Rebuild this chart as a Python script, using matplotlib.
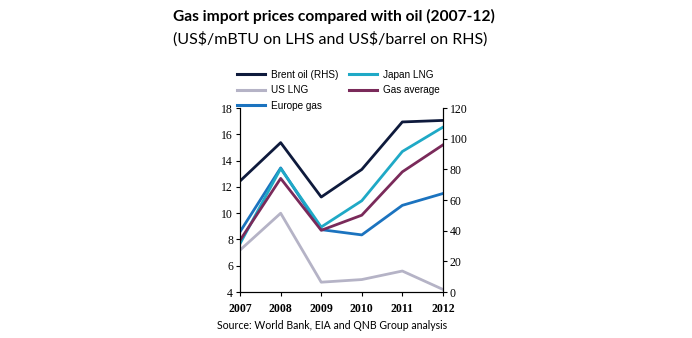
import matplotlib.pyplot as plt
from matplotlib.lines import Line2D

# values
years = ['2007', '2008', '2009', '2010', '2011', '2012']
brent_oil = [72.5, 97.5, 62, 80, 111, 112]      # US$/barrel, RHS
japan_lng = [7.7, 13.4, 8.95, 10.95, 14.7, 16.55]
us_lng = [7.2, 10.0, 4.75, 4.95, 5.6, 4.2]
gas_average = [7.95, 12.65, 8.7, 9.85, 13.15, 15.2]
europe_gas = [8.6, 13.45, 8.75, 8.35, 10.6, 11.5]

c_brent = '#0e1a3c'
c_japan = '#1fa9c6'
c_us = '#b5b3c6'
c_avg = '#7a2a5a'
c_europe = '#1b73bf'

fig = plt.figure(figsize=(6.92, 3.38), dpi=100)
ax = fig.add_axes([0.347, 0.136, 0.293, 0.544])
ax2 = ax.twinx()

x = range(len(years))
lw = 2.0
ax.plot(x, us_lng, color=c_us, lw=lw)
ax.plot(x, europe_gas, color=c_europe, lw=lw)
ax.plot(x, japan_lng, color=c_japan, lw=lw)
ax.plot(x, gas_average, color=c_avg, lw=lw)
ax2.plot(x, brent_oil, color=c_brent, lw=lw)

ax.set_xlim(0, 5)
ax.set_ylim(4, 18)
ax.set_yticks(range(4, 19, 2))
ax2.set_ylim(0, 120)
ax2.set_yticks(range(0, 121, 20))
ax.set_xticks(list(x))
ax.set_xticklabels(years)

serif = {'family': 'Liberation Serif', 'size': 8.5}
for a in (ax, ax2):
    a.spines['top'].set_visible(False)
    a.tick_params(length=3, width=0.8, pad=2)
    for lab in a.get_xticklabels() + a.get_yticklabels():
        lab.set_fontproperties(serif)
for lab in ax.get_xticklabels():
    lab.set_fontweight('bold')
ax.tick_params(axis='x', pad=5)

# legend above the plot
handles = [Line2D([], [], color=c, lw=2.2) for c in (c_brent, c_us, c_europe, c_japan, c_avg)]
labels = ['Brent oil (RHS)', 'US LNG', 'Europe gas', 'Japan LNG', 'Gas average']
fig.legend(handles, labels, ncol=2, loc='upper left', bbox_to_anchor=(0.333, 0.815),
           frameon=False, prop={'family': 'Liberation Sans', 'size': 7.2},
           handlelength=2.8, handletextpad=0.6, columnspacing=1.0, labelspacing=0.55,
           borderpad=0.2)

fig.text(0.25, 0.95, 'Gas import prices compared with oil (2007-12)', fontsize=11.2,
         fontweight='bold', family='Lato', va='center', ha='left')
fig.text(0.25, 0.885, r'(US\$/mBTU on LHS and US\$/barrel on RHS)', fontsize=11.5,
         family='Lato', va='center', ha='left')
fig.text(0.313, 0.038, 'Source: World Bank, EIA and QNB Group analysis', fontsize=7.6,
         family='Lato', va='center', ha='left')

fig.savefig('out.png', dpi=100)
